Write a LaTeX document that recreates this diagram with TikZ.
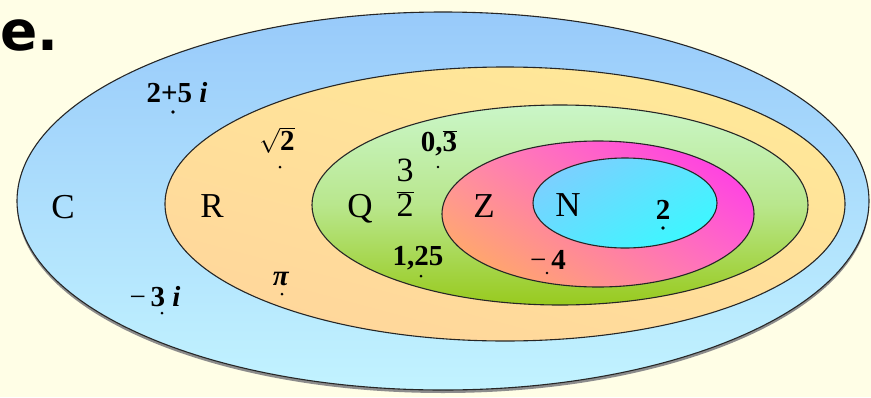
\documentclass[tikz,border=0pt]{standalone}
\usepackage{fontspec}
\usetikzlibrary{shadings}
\setmainfont{Liberation Serif}
\newfontfamily\efont{DejaVu Sans}
\definecolor{bgc}{HTML}{FFFEE6}
\definecolor{cTop}{HTML}{98CAFA}
\definecolor{cBot}{HTML}{C2F3FF}
\definecolor{rTop}{HTML}{FFEB98}
\definecolor{rBot}{HTML}{FFD49C}
\definecolor{qTop}{HTML}{CAF6C8}
\definecolor{qBot}{HTML}{98CA1E}
\definecolor{zUR}{HTML}{FF2EF0}
\definecolor{zLL}{HTML}{FFB650}
\definecolor{zUL}{HTML}{FF8AB0}
\definecolor{zLR}{HTML}{FF70C8}
\definecolor{nUL}{HTML}{88C8FF}
\definecolor{nLR}{HTML}{30FFFF}
\begin{document}
\begin{tikzpicture}[x=1pt,y=-1pt,
  setline/.style={draw=black!85,line width=1.1pt},
  lbl/.style={font=\fontsize{35}{35}\selectfont,inner sep=0pt},
  num/.style={font=\fontsize{29}{29}\selectfont\bfseries,inner sep=0pt},
  pt/.style={circle,fill=black,inner sep=0pt,minimum size=3.6pt}]
\useasboundingbox (0,0) rectangle (871,397);
\fill[bgc] (0,0) rectangle (871,397);
% shadow of outer set
\fill[black!45] (443,204) ellipse [x radius=426pt, y radius=189pt];
% C
\shade[top color=cTop,bottom color=cBot,setline] (443,201) ellipse [x radius=426pt, y radius=189pt];
% R
\shade[upper right=rTop,upper left=rTop!60!rBot,lower left=rBot,lower right=rBot!60!rTop,setline] (505,204) ellipse [x radius=340pt, y radius=137pt];
% Q
\shade[top color=qTop,bottom color=qBot,middle color=qTop!65!qBot,setline] (560,205) ellipse [x radius=248pt, y radius=100pt];
% Z
\shade[upper right=zUR,upper left=zUL,lower left=zLL,lower right=zLR,setline] (598,214) ellipse [x radius=156pt, y radius=73pt];
% N
\shade[upper left=nUL,lower right=nLR,upper right=nUL!45!nLR,lower left=nUL!55!nLR,setline] (625,203) ellipse [x radius=92pt, y radius=45pt];

\node[font=\efont\bfseries\fontsize{55}{55}\selectfont,anchor=base west,inner sep=0pt] (title) at (0,50) {e.};

\node[lbl] (lC) at (63,207) {C};
\node[lbl] (lR) at (212,206) {R};
\node[lbl] (lQ) at (360,209) {Q};
\node[lbl] (lZ) at (484,206) {Z};
\node[lbl] (lN) at (568,205) {N};

\node[num] (t1) at (177,93) {2+5 \textit{i}};
\node[pt] (p1) at (173,112) {};
\node[num] (t2) at (277,140) {$\sqrt{\mbox{\textbf{2}}}$};
\node[pt,minimum size=3pt] (p2) at (280,167) {};
\node[num] (t3) at (439,143) {0,$\overline{\mbox{\textbf{3}}}$};
\node[pt,minimum size=2.6pt] (p3) at (438,167) {};
\node[font=\fontsize{34}{34}\selectfont,inner sep=0pt] (t4) at (405,188) {$\displaystyle\frac{\mbox{3}}{\mbox{2}}$};
\node[num] (t5) at (418,258) {1,25};
\node[pt,minimum size=3pt] (p5) at (421,276) {};
\node[num] (t6) at (548,260) {\mdseries−\,\bfseries 4};
\node[pt,minimum size=2.6pt] (p6) at (547,273) {};
\node[num] (t7) at (281,279) {\textit{π}};
\node[pt,minimum size=3pt] (p7) at (282,294) {};
\node[num] (t8) at (155,297) {\mdseries−\,\bfseries 3 \textit{i}};
\node[pt,minimum size=3pt] (p8) at (162,313) {};
\node[num] (t9) at (663,210) {2};
\node[pt] (p9) at (663,228) {};
\end{tikzpicture}
\end{document}
